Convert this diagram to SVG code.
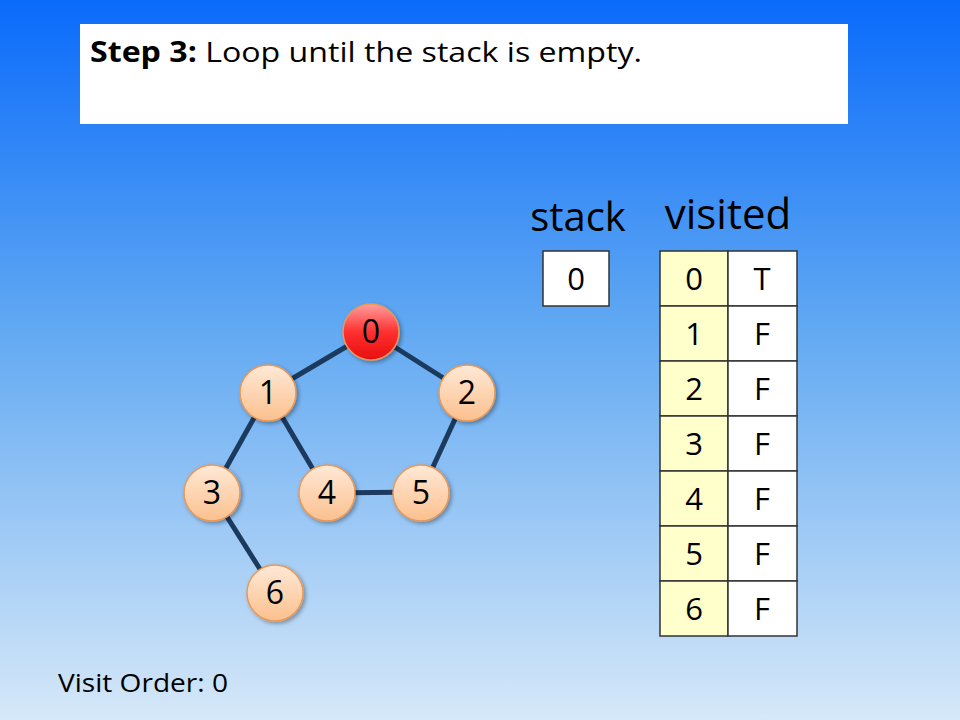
<svg xmlns="http://www.w3.org/2000/svg" width="960" height="720" viewBox="0 0 960 720">
<defs>
<linearGradient id="bg" x1="0" y1="0" x2="0" y2="1">
<stop offset="0" stop-color="#0A6BFB"/>
<stop offset="0.45" stop-color="#60A8F2"/>
<stop offset="1" stop-color="#D6E8F8"/>
</linearGradient>
<linearGradient id="peach" x1="0" y1="0" x2="0" y2="1">
<stop offset="0" stop-color="#FFE9D6"/>
<stop offset="1" stop-color="#FBC08E"/>
</linearGradient>
<linearGradient id="red" x1="0" y1="0" x2="0" y2="1">
<stop offset="0" stop-color="#FF9E9E"/>
<stop offset="0.5" stop-color="#FF3030"/>
<stop offset="1" stop-color="#E80E0E"/>
</linearGradient>
<filter id="sh" x="-30%" y="-30%" width="160%" height="160%">
<feDropShadow dx="2" dy="2" stdDeviation="2" flood-color="#000" flood-opacity="0.35"/>
</filter>
</defs>
<style>
text{font-family:"Open Sans","Noto Sans","Liberation Sans",sans-serif;fill:#000}
.edge{stroke:#1B3A5E;stroke-width:5;fill:none}
.node{stroke:#E8995A;stroke-width:1.5;filter:url(#sh)}
.nl{font-size:32px;text-anchor:middle}
.cell{stroke:#333;stroke-width:1.5}
.ct{font-size:31px;text-anchor:middle}
</style>
<rect width="960" height="720" fill="url(#bg)"/>
<g id="title">
<rect x="80" y="24" width="768" height="100" fill="#fff"/>
<text x="90" y="62" font-size="28" textLength="552" lengthAdjust="spacingAndGlyphs"><tspan font-weight="bold">Step 3:</tspan> Loop until the stack is empty.</text>
</g>
<g id="connectors">
<line class="edge" x1="371" y1="332" x2="268" y2="393"/>
<line class="edge" x1="371" y1="332" x2="467" y2="393"/>
<line class="edge" x1="268" y1="393" x2="212" y2="493"/>
<line class="edge" x1="268" y1="393" x2="327" y2="493"/>
<line class="edge" x1="467" y1="393" x2="421" y2="493"/>
<line class="edge" x1="327" y1="493" x2="421" y2="492"/>
<line class="edge" x1="212" y1="493" x2="275" y2="593"/>
</g>
<g id="node0"><circle class="node" cx="371" cy="332" r="28" fill="url(#red)"/><text class="nl" x="371" y="343">0</text></g>
<g id="node1"><circle class="node" cx="268" cy="393" r="28" fill="url(#peach)"/><text class="nl" x="268" y="404">1</text></g>
<g id="node2"><circle class="node" cx="467" cy="393" r="28" fill="url(#peach)"/><text class="nl" x="467" y="404">2</text></g>
<g id="node3"><circle class="node" cx="212" cy="493" r="28" fill="url(#peach)"/><text class="nl" x="212" y="504">3</text></g>
<g id="node4"><circle class="node" cx="327" cy="493" r="28" fill="url(#peach)"/><text class="nl" x="327" y="504">4</text></g>
<g id="node5"><circle class="node" cx="421" cy="493" r="28" fill="url(#peach)"/><text class="nl" x="421" y="504">5</text></g>
<g id="node6"><circle class="node" cx="275" cy="593" r="28" fill="url(#peach)"/><text class="nl" x="275" y="604">6</text></g>
<g id="stack">
<text x="578" y="231" font-size="40" text-anchor="middle">stack</text>
<rect class="cell" x="543" y="251" width="66" height="55" fill="#fff"/>
<text class="ct" x="576" y="290">0</text>
</g>
<g id="visited">
<text x="728" y="229" font-size="42" text-anchor="middle">visited</text>
<g>
<rect class="cell" x="660" y="251" width="68" height="55" fill="#FFFFCC"/><rect class="cell" x="728" y="251" width="69" height="55" fill="#fff"/>
<text class="ct" x="694" y="290">0</text><text class="ct" x="762" y="290">T</text>
<rect class="cell" x="660" y="306" width="68" height="55" fill="#FFFFCC"/><rect class="cell" x="728" y="306" width="69" height="55" fill="#fff"/>
<text class="ct" x="694" y="345">1</text><text class="ct" x="762" y="345">F</text>
<rect class="cell" x="660" y="361" width="68" height="55" fill="#FFFFCC"/><rect class="cell" x="728" y="361" width="69" height="55" fill="#fff"/>
<text class="ct" x="694" y="400">2</text><text class="ct" x="762" y="400">F</text>
<rect class="cell" x="660" y="416" width="68" height="55" fill="#FFFFCC"/><rect class="cell" x="728" y="416" width="69" height="55" fill="#fff"/>
<text class="ct" x="694" y="455">3</text><text class="ct" x="762" y="455">F</text>
<rect class="cell" x="660" y="471" width="68" height="55" fill="#FFFFCC"/><rect class="cell" x="728" y="471" width="69" height="55" fill="#fff"/>
<text class="ct" x="694" y="510">4</text><text class="ct" x="762" y="510">F</text>
<rect class="cell" x="660" y="526" width="68" height="55" fill="#FFFFCC"/><rect class="cell" x="728" y="526" width="69" height="55" fill="#fff"/>
<text class="ct" x="694" y="565">5</text><text class="ct" x="762" y="565">F</text>
<rect class="cell" x="660" y="581" width="68" height="55" fill="#FFFFCC"/><rect class="cell" x="728" y="581" width="69" height="55" fill="#fff"/>
<text class="ct" x="694" y="620">6</text><text class="ct" x="762" y="620">F</text>
</g>
</g>
<g id="visit-order">
<text x="58" y="692" font-size="25" textLength="170" lengthAdjust="spacingAndGlyphs">Visit Order: 0</text>
</g>
</svg>
